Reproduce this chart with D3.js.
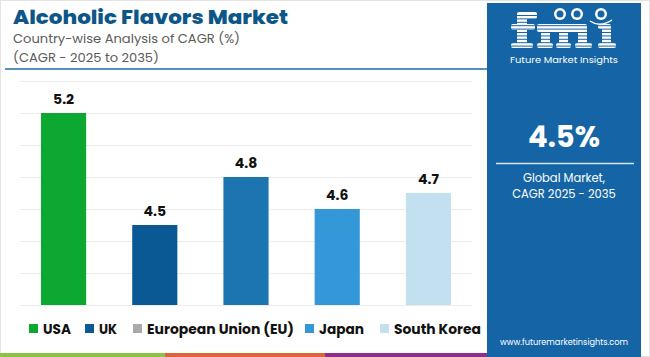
<!DOCTYPE html>
<html><head><meta charset="utf-8">
<script src="https://cdn.jsdelivr.net/npm/d3@7"></script>
<style>body{margin:0;background:#fff}svg{display:block}</style>
</head><body>
<svg id="c" width="650" height="357"></svg>
<script>
const categories = ["USA", "UK", "European Union (EU)", "Japan", "South Korea"];
const values = [5.2, 4.5, 4.8, 4.6, 4.7];
const barColors = ["#0ca832", "#0a5994", "#1c75b0", "#3498d8", "#c2e0f0"];
const legendColors = ["#0ca832", "#0a5994", "#aaaaaa", "#3498d8", "#c2e0f0"];
const gridTicks = [4.0, 4.2, 4.4, 4.6, 4.8, 5.0, 5.2, 5.4];
const title = "Alcoholic Flavors Market";
const subtitle1 = "Country-wise Analysis of CAGR (%)";
const subtitle2 = "(CAGR - 2025 to 2035)";
const globalValue = "4.5%";

const svg = d3.select("#c");
const F = "Poppins, Inter, 'Noto Sans', sans-serif";
const PANEL = "#1565a6";

// frame
svg.append("rect").attr("x",0.5).attr("y",0.5).attr("width",649).attr("height",356)
  .attr("fill","#fff").attr("stroke","#e4e4e4");

// title
svg.append("text").attr("x",13).attr("y",23.5).text(title)
  .attr("font-family",F).attr("font-weight",800).attr("font-size",19.5).attr("fill","#0d5788")
  .attr("textLength",275).attr("lengthAdjust","spacingAndGlyphs");
svg.append("text").attr("x",13).attr("y",43).text(subtitle1)
  .attr("font-family",F).attr("font-size",12.5).attr("fill","#5a5a5a")
  .attr("textLength",227).attr("lengthAdjust","spacingAndGlyphs");
svg.append("text").attr("x",13).attr("y",62).text(subtitle2)
  .attr("font-family",F).attr("font-size",12.5).attr("fill","#5a5a5a")
  .attr("textLength",146).attr("lengthAdjust","spacingAndGlyphs");
svg.append("line").attr("x1",5).attr("x2",487).attr("y1",69).attr("y2",69)
  .attr("stroke","#1f6a9c").attr("stroke-width",1.5);

// scales
const x = d3.scaleBand().domain(categories).range([20,472]).paddingInner(0.505).paddingOuter(0.23);
const y = d3.scaleLinear().domain([4.0,5.4]).range([305,81]);

// grid
svg.append("g").selectAll("line").data(gridTicks).join("line")
  .attr("x1",20).attr("x2",472).attr("y1",d=>Math.round(y(d))+0.5).attr("y2",d=>Math.round(y(d))+0.5)
  .attr("stroke","#ececec").attr("stroke-width",1);

// bars
svg.append("g").selectAll("rect").data(categories).join("rect")
  .attr("x",d=>x(d)).attr("width",x.bandwidth())
  .attr("y",(d,i)=>y(values[i])).attr("height",(d,i)=>y(4.0)-y(values[i]))
  .attr("fill",(d,i)=>barColors[i]);

// labels
svg.append("g").selectAll("text").data(categories).join("text")
  .attr("x",d=>x(d)+x.bandwidth()/2).attr("y",(d,i)=>y(values[i])-9)
  .attr("text-anchor","middle").attr("font-family",F).attr("font-weight",700)
  .attr("font-size",14).attr("fill","#111").text((d,i)=>values[i].toFixed(1));

// legend
const legX = [29, 85, 133, 305, 380];
const legW = [28, 18, 147, 45, 87];
const leg = svg.append("g").selectAll("g").data(categories).join("g")
  .attr("transform",(d,i)=>`translate(${legX[i]},324)`);
leg.append("rect").attr("width",9).attr("height",9).attr("fill",(d,i)=>legendColors[i]);
leg.append("text").attr("x",14).attr("y",9.5).text(d=>d)
  .attr("font-family",F).attr("font-weight",700).attr("font-size",13.5).attr("fill","#111")
  .attr("textLength",(d,i)=>legW[i]).attr("lengthAdjust","spacingAndGlyphs");

// bottom stripes
const stripes = [["#8bc34a",0,165],["#e0643a",165,325],["#8e2d8e",325,487]];
svg.append("g").selectAll("rect").data(stripes).join("rect")
  .attr("x",d=>d[1]).attr("width",d=>d[2]-d[1]).attr("y",353).attr("height",4).attr("fill",d=>d[0]);

// right panel
const P = svg.append("g");
P.append("rect").attr("x",487).attr("y",3).attr("width",154).attr("height",354).attr("fill",PANEL);

// logo: striped "fmi" glyph shapes
const logo = P.append("g");
const shapes = [
  // f
  [517,14,10,34],[517,12,20,7],[511,24,24,6],[511,43,22,5],
  // m
  [541,27,9,21],[559,27,9,21],[578,27,9,21],[537,24,50,8],
  [537,43,16,5],[556,43,15,5],[575,43,17,5],
  // i
  [602,27,9,21],[598,24,13,5],[598,43,18,5]
];
logo.selectAll("rect").data(shapes).join("rect")
  .attr("x",d=>d[0]).attr("y",d=>d[1]).attr("width",d=>d[2]).attr("height",d=>d[3])
  .attr("rx",2).attr("fill","#fff");
for (let yy=15.5; yy<=47; yy+=3.4) {
  logo.append("line").attr("x1",508).attr("x2",620).attr("y1",yy).attr("y2",yy)
    .attr("stroke",PANEL).attr("stroke-width",1);
}
[[560,14],[577,14],[601,14]].forEach(c=>{
  logo.append("circle").attr("cx",c[0]).attr("cy",c[1]).attr("r",6).attr("fill","#fff");
  logo.append("circle").attr("cx",c[0]).attr("cy",c[1]).attr("r",3.5).attr("fill",PANEL);
});
logo.append("path").attr("d","M590,21 Q600,28 612,20").attr("fill","none")
  .attr("stroke","#fff").attr("stroke-width",1.5);
logo.append("text").attr("x",564).attr("y",63).attr("text-anchor","middle").text("Future Market Insights")
  .attr("font-family",F).attr("font-size",9.5).attr("fill","#fff")
  .attr("textLength",108).attr("lengthAdjust","spacingAndGlyphs");

P.append("text").attr("x",564).attr("y",147).attr("text-anchor","middle").text(globalValue)
  .attr("font-family",F).attr("font-weight",700).attr("font-size",29).attr("fill","#fff");
P.append("line").attr("x1",496).attr("x2",634).attr("y1",163.5).attr("y2",163.5)
  .attr("stroke","#d6e6f3").attr("stroke-width",1.5);
P.append("text").attr("x",564).attr("y",182).attr("text-anchor","middle").text("Global Market,")
  .attr("font-family",F).attr("font-size",11.5).attr("fill","#fff");
P.append("text").attr("x",564).attr("y",198).attr("text-anchor","middle").text("CAGR 2025 - 2035")
  .attr("font-family",F).attr("font-size",11.5).attr("fill","#fff");
P.append("text").attr("x",564).attr("y",345).attr("text-anchor","middle").text("www.futuremarketinsights.com")
  .attr("font-family",F).attr("font-size",9.5).attr("fill","#fff")
  .attr("textLength",128).attr("lengthAdjust","spacingAndGlyphs");
</script>
</body></html>
